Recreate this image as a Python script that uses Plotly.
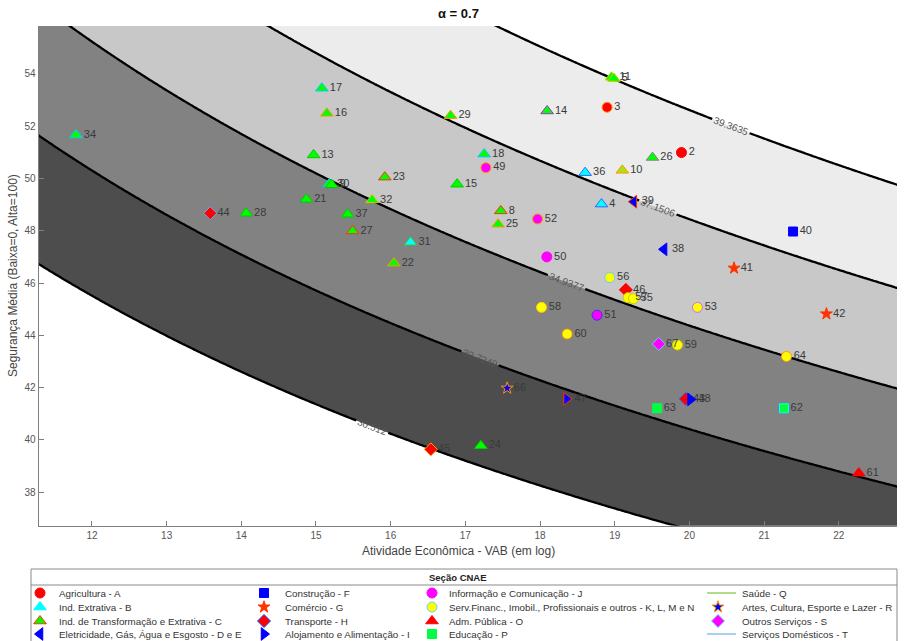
import numpy as np
import plotly.graph_objects as go

W, H = 904, 641
ALPHA = 0.7

# contour levels (as printed on the chart)
LEVELS = [30.512, 32.7249, 34.9377, 37.1506, 39.3635]
BAND_COLORS = ["#ffffff", "#4d4d4d", "#828282", "#c7c8c7", "#ececec", "#ffffff"]

X_TICKS = [12, 13, 14, 15, 16, 17, 18, 19, 20, 21, 22]
Y_TICKS = [38, 40, 42, 44, 46, 48, 50, 52, 54]
X_RANGE = [11.287, 22.78]
Y_RANGE = [36.72, 55.83]

# legend entries (column-major, as in the reference)
SECTOR_CODES = ["A", "B", "C", "DE", "F", "G", "H", "I", "J", "KN", "O", "P", "Q", "R", "S", "T"]
SECTOR_NAMES = [
    "Agricultura - A", "Ind. Extrativa - B", "Ind. de Transformação e Extrativa - C",
    "Eletricidade, Gás, Água e Esgosto - D e E",
    "Construção - F", "Comércio - G", "Transporte - H", "Alojamento e Alimentação - I",
    "Informação e Comunicação - J", "Serv.Financ., Imobil., Profissionais e outros - K, L, M e N",
    "Adm. Pública - O", "Educação - P",
    "Saúde - Q", "Artes, Cultura, Esporte e Lazer - R", "Outros Serviços - S", "Serviços Domésticos - T",
]
SECTOR_SYMBOL = {"A": "circle", "B": "triangle-up", "C": "triangle-up", "DE": "triangle-left",
                 "F": "square", "G": "star", "H": "diamond", "I": "triangle-right",
                 "J": "circle", "KN": "circle", "O": "triangle-up", "P": "square",
                 "Q": None, "R": "star", "S": "diamond", "T": None}
SECTOR_FILL = {"A": "#ff0000", "B": "#00ffff", "C": "#00ff00", "DE": "#0000ff", "F": "#0000ff",
               "G": "#ff3300", "H": "#ff0000", "I": "#0000ff", "J": "#ff00ff", "KN": "#ffff00",
               "O": "#ff0000", "P": "#00ff44", "Q": "#9acd63", "R": "#0000ff", "S": "#ff00ff",
               "T": "#8fc1e8"}
SECTOR_EDGE = {"A": "#ff0000", "B": "#00ffff", "C": "#ff3300", "DE": "#0000ff", "F": "#0000ff",
               "G": "#ff3300", "H": "#0055ff", "I": "#0000ff", "J": "#ff00ff", "KN": "#66ccff",
               "O": "#ff0000", "P": "#00ff44", "Q": "#9acd63", "R": "#ff9900", "S": "#66ccff",
               "T": "#8fc1e8"}
SECTOR_SIZE = {"circle": 10, "triangle-up": 11, "triangle-left": 11, "triangle-right": 11,
               "square": 9, "star": 9, "diamond": 10}

# points
PT_LABEL = ["2", "3", "4", "31", "36", "11", "5", "8", "30", "9", "10", "13", "14", "15", "16", "17",
            "18", "21", "22", "23", "24", "25", "26", "27", "28", "29", "32", "34", "37",
            "38", "39", "40", "41", "42", "43", "44", "45", "46", "47", "48",
            "49", "50", "51", "52", "53", "57", "55", "56", "58", "59", "60", "64",
            "61", "62", "63", "66", "67"]
PT_X = [19.894, 18.898, 18.823, 16.266, 18.604, 18.957, 18.99, 17.475, 15.177, 15.21, 19.102, 14.968,
        18.095, 16.890, 15.146, 15.079, 17.252, 14.871, 16.043, 15.922, 17.208, 17.439, 19.506,
        15.490, 14.066, 16.802, 15.752, 11.786, 15.423,
        19.661, 19.256, 21.388, 20.598, 21.835, 19.95, 13.584, 16.538, 19.149, 18.355, 20.015,
        17.275, 18.091, 18.764, 17.967, 20.108, 19.179, 19.25, 18.934, 18.020, 19.841, 18.363,
        21.300, 22.268, 21.267, 19.568, 17.560, 19.590]
PT_Y = [50.99, 52.72, 49.02, 47.56, 50.22, 53.87, 53.82, 48.76, 49.79, 49.76, 50.31, 50.90,
        52.58, 49.78, 52.49, 53.45, 50.93, 49.20, 46.76, 50.05, 39.78, 48.25, 50.80,
        47.99, 48.67, 52.40, 49.18, 51.66, 48.63,
        47.29, 49.11, 47.97, 46.57, 44.82, 41.57, 48.67, 39.64, 45.74, 41.57, 41.55,
        50.41, 47.00, 44.77, 48.45, 45.07, 45.44, 45.40, 46.21, 45.07, 43.63, 44.05,
        43.19, 38.73, 41.21, 41.21, 41.98, 43.67]
PT_SECTOR = ["A", "A", "B", "B", "B", "C", "C", "C", "C", "C", "C", "C", "C", "C", "C", "C",
             "C", "C", "C", "C", "C", "C", "C", "C", "C", "C", "C", "C", "C",
             "DE", "DE", "F", "G", "G", "H", "H", "H", "H", "I", "I",
             "J", "J", "J", "J", "KN", "KN", "KN", "KN", "KN", "KN", "KN", "KN",
             "O", "P", "P", "R", "S"]
PT_EDGE = ["#ff0000", "#ff9900", "#3366ff", "#33cc33", "#3366ff", "#cccc00", "#cccc00", "#ff3300",
           "#00ccff", "#00cc00", "#ff9900", "#00cc00", "#9933cc", "#00cc00", "#ff9900", "#00ccff",
           "#00ccff", "#00cc00", "#ff9900", "#ff3300", "#00cc00", "#ff9900", "#888888", "#ff3300",
           "#00cc00", "#ff9900", "#cccc00", "#00ccff", "#00cc00",
           "#0000ff", "#ff3300", "#0000ff", "#ff3300", "#ff3300", "#3366ff", "#66aaff", "#ff9900",
           "#ff0000", "#ff3300", "#0000ff",
           "#ff9900", "#ff00ff", "#3333ff", "#ff9900", "#cc66ff", "#cccc00", "#cccc00", "#66ccff",
           "#ffcc00", "#cccc00", "#ff9900", "#ff9900",
           "#ff0000", "#00ffff", "#00ff44", "#ff9900", "#66ccff"]
PT_FILL_OVERRIDE = {"10": "#a8e21a"}

# legend layout (pixel positions of the manual legend)
LEG_COL_X = [40, 264, 432, 718]
LEG_TEXT_DX = [17, 19, 15, 22]
LEG_ROW_Y = [593, 607, 621, 634]

fig = go.Figure()

# ---- filled contour bands
xs = np.linspace(11.2, 22.9, 320)
ys = np.linspace(36.6, 56.0, 320)
XX, YY = np.meshgrid(xs, ys)
ZZ = XX ** (1 - ALPHA) * YY ** ALPHA

cs = (LEVELS[-1] - LEVELS[0]) / (len(LEVELS) - 1)
nb = len(BAND_COLORS)
cscale = []
for i, c in enumerate(BAND_COLORS):
    lo = max(0.0, (i - 0.5) / (nb - 1))
    hi = min(1.0, (i + 0.5) / (nb - 1))
    cscale += [[lo, c], [hi, c]]

fig.add_trace(go.Contour(
    x=xs, y=ys, z=ZZ, autocontour=False,
    contours=dict(start=LEVELS[0], end=LEVELS[-1] + cs * 0.01, size=cs, coloring="fill", showlines=False),
    colorscale=cscale, zmin=LEVELS[0] - cs / 2, zmax=LEVELS[-1] + cs / 2, zauto=False,
    line=dict(width=0), showscale=False, hoverinfo="skip", xaxis="x", yaxis="y",
))

# ---- contour lines with labels (one trace per level)
for L in LEVELS:
    fig.add_trace(go.Contour(
        x=xs, y=ys, z=ZZ, autocontour=False,
        contours=dict(start=L, end=L, size=1, coloring="none", showlabels=True,
                      labelfont=dict(size=10, color="#555555", family="Liberation Sans"),
                      labelformat=".6~g"),
        line=dict(color="black", width=2.3, smoothing=1),
        showscale=False, hoverinfo="skip", xaxis="x", yaxis="y",
    ))

# ---- data points by sector
for code in SECTOR_CODES:
    idx = [i for i, s in enumerate(PT_SECTOR) if s == code]
    if not idx:
        continue
    sym = SECTOR_SYMBOL[code]
    fills = [PT_FILL_OVERRIDE.get(PT_LABEL[i], SECTOR_FILL[code]) for i in idx]
    fig.add_trace(go.Scatter(
        x=[PT_X[i] for i in idx], y=[PT_Y[i] for i in idx],
        text=[PT_LABEL[i] for i in idx], mode="markers+text", textposition="middle right",
        textfont=dict(size=11, color="#3a3a3a", family="Liberation Sans"),
        marker=dict(symbol=sym, size=SECTOR_SIZE[sym], color=fills,
                    line=dict(color=[PT_EDGE[i] for i in idx], width=1)),
        showlegend=False, hoverinfo="skip", xaxis="x", yaxis="y", cliponaxis=False,
    ))

# ---- manual legend (overlay axis in pixel coordinates)
annotations = []
for k, code in enumerate(SECTOR_CODES):
    col, row = k // 4, k % 4
    cx, cy = LEG_COL_X[col], LEG_ROW_Y[row]
    sym = SECTOR_SYMBOL[code]
    if sym is None:
        fig.add_trace(go.Scatter(x=[cx - 11, cx + 18], y=[cy, cy], mode="lines",
                                 line=dict(color=SECTOR_FILL[code], width=1.5),
                                 showlegend=False, hoverinfo="skip", xaxis="x2", yaxis="y2"))
    else:
        fig.add_trace(go.Scatter(x=[cx], y=[cy], mode="markers",
                                 marker=dict(symbol=sym, size=SECTOR_SIZE[sym],
                                             color=SECTOR_FILL[code],
                                             line=dict(color=SECTOR_EDGE[code], width=1)),
                                 showlegend=False, hoverinfo="skip", xaxis="x2", yaxis="y2"))
    annotations.append(dict(x=cx + LEG_TEXT_DX[col], y=cy, xref="x2", yref="y2", text=SECTOR_NAMES[k],
                            showarrow=False, xanchor="left", yanchor="middle",
                            font=dict(size=9.8, color="#333333", family="Liberation Sans")))

annotations.append(dict(x=458, y=577, xref="x2", yref="y2", text="<b>Seção CNAE</b>", showarrow=False,
                        font=dict(size=9.5, color="#222222", family="Liberation Sans")))
annotations.append(dict(x=458, y=13, xref="x2", yref="y2", text="<b>α = 0.7</b>", showarrow=False,
                        font=dict(size=13, color="#111111", family="Liberation Sans")))
annotations.append(dict(x=458, y=551, xref="x2", yref="y2", text="Atividade Econômica - VAB (em log)",
                        showarrow=False, font=dict(size=12, color="#444444", family="Liberation Sans")))
annotations.append(dict(x=13, y=276, xref="x2", yref="y2", text="Segurança Média (Baixa=0, Alta=100)",
                        showarrow=False, textangle=-90,
                        font=dict(size=12, color="#444444", family="Liberation Sans")))

shapes = [
    dict(type="rect", xref="x2", yref="y2", x0=31, x1=897, y0=569, y1=650,
         line=dict(color="#8a8a8a", width=1), fillcolor="rgba(0,0,0,0)", layer="below"),
    dict(type="line", xref="x2", yref="y2", x0=31, x1=897, y0=585, y1=585,
         line=dict(color="#8a8a8a", width=1)),
]

axis_common = dict(showline=True, linecolor="#7f7f7f", linewidth=1, ticks="inside", ticklen=5,
                   tickcolor="#7f7f7f", showgrid=False, zeroline=False, mirror=False,
                   tickfont=dict(size=10, color="#555555", family="Liberation Sans"), automargin=False)

fig.update_layout(
    width=W, height=H, margin=dict(l=0, r=0, t=0, b=0),
    paper_bgcolor="white", plot_bgcolor="rgba(0,0,0,0)",
    xaxis=dict(domain=[38.7 / W, 897 / W], range=X_RANGE, tickvals=X_TICKS, anchor="y", **axis_common),
    yaxis=dict(domain=[1 - 525.7 / H, 1 - 26 / H], range=Y_RANGE, tickvals=Y_TICKS, anchor="x", **axis_common),
    xaxis2=dict(domain=[0, 1], range=[0, W], visible=False, fixedrange=True, anchor="y2"),
    yaxis2=dict(domain=[0, 1], range=[H, 0], visible=False, fixedrange=True, anchor="x2"),
    annotations=annotations, shapes=shapes, showlegend=False,
    font=dict(family="Liberation Sans"),
)

fig.write_html("out.html", config={"displayModeBar": False},
               post_script="document.body.style.margin='0';document.body.style.overflow='hidden';")
